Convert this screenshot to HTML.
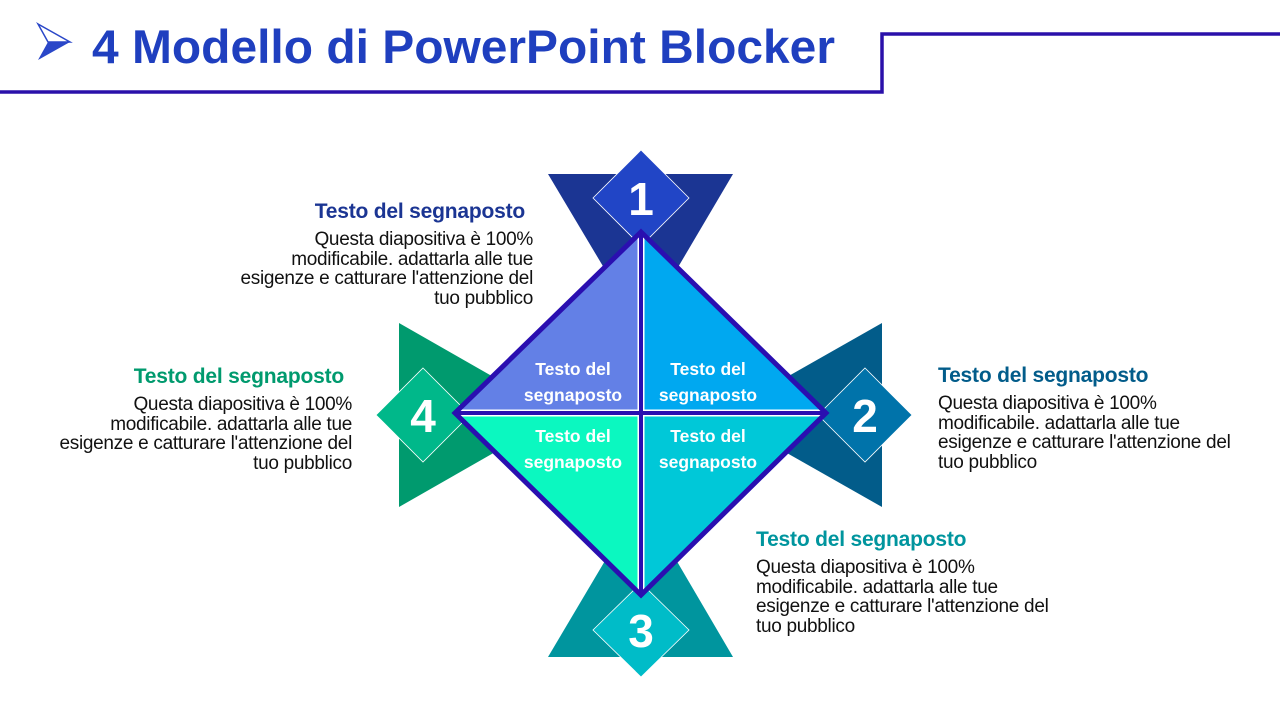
<!DOCTYPE html>
<html><head><meta charset="utf-8"><style>
body{margin:0;width:1280px;height:720px;background:#fff;position:relative;overflow:hidden;font-family:"Liberation Sans",sans-serif}
.t{position:absolute;font-size:19px;line-height:19.5px;color:#111;letter-spacing:-0.3px;white-space:nowrap}
.t b{display:block;font-size:21px;line-height:24px;margin-bottom:6px;letter-spacing:-0.2px}
.r{text-align:right}
</style></head><body>
<svg width="1280" height="720" style="position:absolute;left:0;top:0">
<polyline points="0,92 882,92 882,34 1280,34" fill="none" stroke="#2A10AA" stroke-width="3.5"/>
<polygon points="38,24 70,42 38,60 48,42" fill="#2A47C8"/>
<polygon points="38,24 70,42 48,42" fill="#fff" stroke="#2A47C8" stroke-width="1.5"/>
<text x="92" y="63" font-family="Liberation Sans" font-weight="bold" font-size="47" fill="#1F3FBF" textLength="743" lengthAdjust="spacingAndGlyphs">4 Modello di PowerPoint Blocker</text>
<polygon points="548,174 733,174 641,330" fill="#1B3593"/>
<polygon points="882,323 882,507 720,415" fill="#025C8A"/>
<polygon points="548,657 733,657 641,500" fill="#00959E"/>
<polygon points="399,323 399,507 560,415" fill="#009A6E"/>
<polygon points="641,150 689,198 641,246 593,198" fill="#2145C6" stroke="#fff" stroke-width="0.8"/>
<polygon points="865,368 912,415 865,462 818,415" fill="#0073AA" stroke="#fff" stroke-width="0.8"/>
<polygon points="641,583 689,630 641,677 593,630" fill="#00BCC8" stroke="#fff" stroke-width="0.8"/>
<polygon points="423,368 470,415 423,462 376,415" fill="#00B88A" stroke="#fff" stroke-width="0.8"/>
<g font-family="Liberation Sans" font-weight="bold" font-size="46" fill="#fff" text-anchor="middle">
<text x="641" y="215">1</text><text x="865" y="432">2</text><text x="641" y="647">3</text><text x="423" y="432">4</text>
</g>
<polygon points="641,232 641,413 455,413" fill="#6380E6"/>
<polygon points="641,232 826,413 641,413" fill="#00A8F0"/>
<polygon points="455,413 641,413 641,595" fill="#0BF8C0"/>
<polygon points="641,413 826,413 641,595" fill="#00C8D8"/>
<line x1="641" y1="232" x2="641" y2="595" stroke="#fff" stroke-width="7"/>
<line x1="455" y1="413" x2="826" y2="413" stroke="#fff" stroke-width="7"/>
<line x1="641" y1="232" x2="641" y2="595" stroke="#2A0FB0" stroke-width="4"/>
<line x1="455" y1="413" x2="826" y2="413" stroke="#2A0FB0" stroke-width="4"/>
<polygon points="641,232 826,413 641,595 455,413" fill="none" stroke="#2A0FB0" stroke-width="5"/>
<g font-family="Liberation Sans" font-weight="bold" font-size="17.5" fill="#fff" text-anchor="middle">
<text x="573" y="375">Testo del</text><text x="573" y="401">segnaposto</text>
<text x="708" y="375">Testo del</text><text x="708" y="401">segnaposto</text>
<text x="573" y="442">Testo del</text><text x="573" y="468">segnaposto</text>
<text x="708" y="442">Testo del</text><text x="708" y="468">segnaposto</text>
</g>
</svg>
<div class="t r" style="right:747px;top:200px;width:320px"><b style="color:#1B3593;margin-right:8px">Testo del segnaposto</b>Questa diapositiva è 100%<br>modificabile. adattarla alle tue<br>esigenze e catturare l'attenzione del<br>tuo pubblico</div>
<div class="t r" style="right:928px;top:365px;width:320px"><b style="color:#009A6E;margin-right:8px">Testo del segnaposto</b>Questa diapositiva è 100%<br>modificabile. adattarla alle tue<br>esigenze e catturare l'attenzione del<br>tuo pubblico</div>
<div class="t" style="left:938px;top:364px;width:330px"><b style="color:#025C8A">Testo del segnaposto</b>Questa diapositiva è 100%<br>modificabile. adattarla alle tue<br>esigenze e catturare l'attenzione del<br>tuo pubblico</div>
<div class="t" style="left:756px;top:528px;width:330px"><b style="color:#00959E">Testo del segnaposto</b>Questa diapositiva è 100%<br>modificabile. adattarla alle tue<br>esigenze e catturare l'attenzione del<br>tuo pubblico</div>
</body></html>
